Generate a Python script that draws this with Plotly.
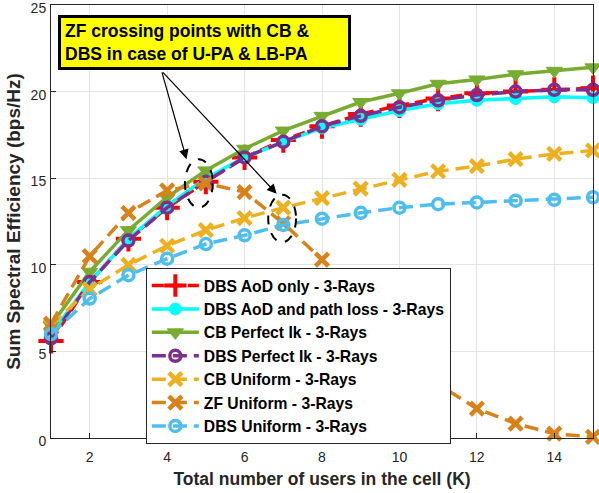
import plotly.graph_objects as go

K = list(range(1, 16))
dbs_aod_only = [5.6, 9.0, 11.5, 13.3, 14.8, 16.2, 17.2, 18.0, 18.7, 19.2, 19.6, 19.9, 20.0, 20.1, 20.2]
dbs_aod_pl = [6.0, 9.0, 11.5, 13.4, 15.0, 16.2, 17.1, 17.9, 18.4, 18.9, 19.3, 19.5, 19.6, 19.7, 19.65]
cb_perfect = [6.5, 9.6, 12.0, 13.9, 15.45, 16.7, 17.75, 18.6, 19.4, 19.9, 20.45, 20.7, 21.0, 21.2, 21.4]
dbs_perfect = [5.75, 9.0, 11.4, 13.3, 14.8, 16.2, 17.1, 18.0, 18.6, 19.1, 19.5, 19.8, 20.0, 20.1, 20.1]
cb_uniform = [6.5, 8.6, 10.0, 11.1, 12.0, 12.7, 13.3, 13.85, 14.4, 14.9, 15.4, 15.7, 16.1, 16.4, 16.6]
zf_uniform = [6.6, 10.5, 13.0, 14.3, 14.7, 14.2, 12.4, 10.3, 7.6, 5.1, 3.1, 1.7, 0.83, 0.25, 0.06]
dbs_uniform = [6.0, 8.05, 9.4, 10.35, 11.2, 11.7, 12.3, 12.66, 13.0, 13.3, 13.5, 13.6, 13.7, 13.75, 13.9]

names = ["DBS AoD only - 3-Rays", "DBS AoD and path loss - 3-Rays", "CB Perfect Ik - 3-Rays",
         "DBS Perfect Ik - 3-Rays", "CB Uniform - 3-Rays", "ZF Uniform - 3-Rays", "DBS Uniform - 3-Rays"]

FONT = "Liberation Sans, Arial, sans-serif"
fig = go.Figure()

def add(y, name, color, dash, symbol, size, lw=3.5, mlw=3, mcolor=None):
    fig.add_trace(go.Scatter(
        x=K, y=y, name=name, mode="lines+markers", cliponaxis=False,
        line=dict(color=color, width=lw, dash=dash),
        marker=dict(symbol=symbol, size=size, color=mcolor or color,
                    line=dict(color=color, width=mlw))))

add(dbs_aod_only, names[0], "#FF0000", "12px,6px", "cross-thin", 18, mlw=4)
add(dbs_aod_pl, names[1], "#00FFFF", "solid", "circle", 12, mlw=1)
add(cb_perfect, names[2], "#77AC30", "solid", "triangle-down", 14, mlw=1)
add(dbs_perfect, names[3], "#7E2F8E", "14px,7px", "circle-open", 11, mlw=3.5)
add(cb_uniform, names[4], "#EDB120", "14px,7px", "x-thin", 13, mlw=4.5)
add(zf_uniform, names[5], "#D9821A", "14px,7px", "x-thin", 13, mlw=4.5)
add(dbs_uniform, names[6], "#4DBEEE", "14px,7px", "circle-open", 11, mlw=3.5)

fig.add_shape(type="circle", xref="x", yref="y", x0=4.46, x1=5.18, y0=13.3, y1=16.1,
              line=dict(color="black", width=2, dash="dash"))
fig.add_shape(type="circle", xref="x", yref="y", x0=6.61, x1=7.33, y0=11.3, y1=14.05,
              line=dict(color="black", width=2, dash="dash"))

for hx, hy in [(4.5, 16.1), (6.83, 14.1)]:
    fig.add_annotation(x=hx, y=hy, xref="x", yref="y", ax=3.855, ay=21.2, axref="x", ayref="y",
                       text="", showarrow=True, arrowhead=2, arrowsize=1.6, arrowwidth=1.2,
                       arrowcolor="black")

fig.add_annotation(x=0.013, y=0.978, xref="paper", yref="paper", xanchor="left", yanchor="top",
                   text="ZF crossing points with CB &<br>DBS in case of U-PA & LB-PA",
                   showarrow=False, align="left", valign="middle", width=279, height=41,
                   bgcolor="#FFFF00", bordercolor="black",
                   borderwidth=3, borderpad=4,
                   font=dict(family=FONT, size=17.5, color="black", weight="bold"))

axis_common = dict(showline=True, linecolor="#262626", linewidth=1, mirror=True,
                   ticks="inside", ticklen=5, tickcolor="#262626", automargin=False,
                   ticklabeloverflow="allow",
                   showgrid=True, gridcolor="#E3E3E3", gridwidth=1, zeroline=False,
                   tickfont=dict(family=FONT, size=14, color="#262626"))
fig.update_xaxes(range=[1, 15], tickvals=[2, 4, 6, 8, 10, 12, 14], ticklabelstandoff=6,
                 title=dict(text="Total number of users in the cell (K)", standoff=8,
                            font=dict(family=FONT, size=17.5, color="#262626", weight="bold")),
                 **axis_common)
fig.update_yaxes(range=[0, 25], tickvals=[0, 5, 10, 15, 20, 25], ticklabelstandoff=1,
                 ticklabelshift=3,
                 title=dict(text="Sum Spectral Efficiency (bps/Hz)", standoff=4,
                            font=dict(family=FONT, size=19, color="#262626", weight="bold")),
                 **axis_common)

fig.update_layout(
    width=599, height=493, autosize=False,
    margin=dict(l=51, r=6, t=5, b=55),
    plot_bgcolor="white", paper_bgcolor="white",
    legend=dict(x=0.175, y=0.393, xanchor="left", yanchor="top",
                bgcolor="white", bordercolor="#262626", borderwidth=1,
                font=dict(family=FONT, size=15.7, color="black", weight="bold"),
                tracegroupgap=0, itemwidth=47),
    showlegend=True,
)

fig.write_html("out.html", config={"displayModeBar": False},
               post_script="document.body.style.margin='0';")
